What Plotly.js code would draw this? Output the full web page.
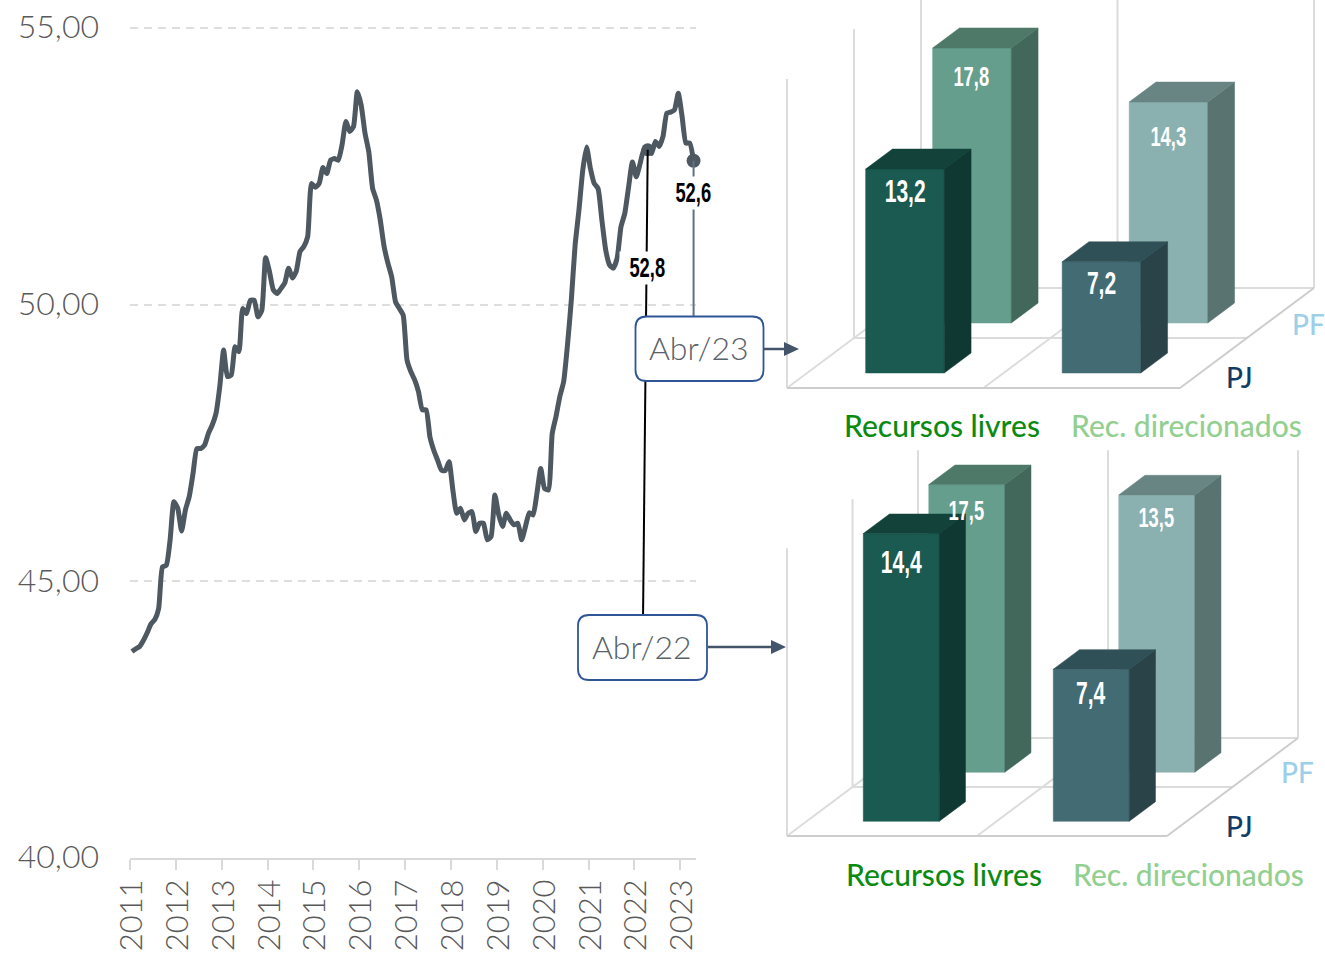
<!DOCTYPE html>
<html>
<head>
<meta charset="utf-8">
<script src="https://cdn.plot.ly/plotly-3.0.1.min.js"></script>
<style>html,body{margin:0;padding:0;background:#fff;overflow:hidden}#c{width:1325px;height:953px}</style>
</head>
<body>
<div id="c"></div>
<script>
// ---------- data ----------
const seriesStartYear = 2011;
const monthlyRate = [
43.73,43.78,43.82,43.93,44.07,44.23,44.31,44.51,45.26,45.29,45.75,46.44,
46.32,45.91,46.29,46.53,46.95,47.40,47.40,47.46,47.67,47.82,48.03,48.52,
49.18,48.70,48.73,49.24,49.15,49.93,49.84,50.08,50.08,49.78,49.90,50.85,
50.60,50.27,50.20,50.29,50.39,50.66,50.48,50.60,50.96,51.05,51.23,52.19,
52.12,52.19,52.48,52.37,52.61,52.64,52.61,52.89,53.31,53.13,53.22,53.85,
53.61,53.10,52.76,52.10,51.89,51.53,51.05,50.75,50.50,50.05,49.93,49.81,
49.00,48.79,48.64,48.43,48.10,48.10,47.61,47.37,47.19,47.01,47.00,47.16,
46.65,46.23,46.32,46.11,46.23,46.26,45.90,46.05,46.05,45.75,45.81,46.56,
46.20,45.99,46.23,46.11,46.02,46.05,45.75,45.99,46.24,46.20,46.59,47.04,
46.68,46.65,47.67,47.98,48.34,48.61,49.27,50.08,51.08,51.71,52.43,52.85,
52.46,52.19,52.10,51.53,50.99,50.72,50.66,50.84,51.41,51.65,52.13,52.58,
52.31,52.55,52.80,52.80,52.73,52.95,52.86,53.04,53.46,53.48,53.52,53.82,
53.40,52.92,52.92,52.60];
const yearTicks = [2011,2012,2013,2014,2015,2016,2017,2018,2019,2020,2021,2022,2023];
const rateTicks = [40,45,50,55];
const rateTickLabels = ["40,00","45,00","50,00","55,00"];
const highlightMonths = [135, 147];
const highlightValues = [52.8, 52.6];
const highlightLabels = ["52,8","52,6"];
const boxLabels = ["Abr/22","Abr/23"];

const categories = ["Recursos livres","Rec. direcionados"];
const rowLabels = ["PJ","PF"];
const pj23 = [13.2, 7.2];
const pf23 = [17.8, 14.3];
const pj22 = [14.4, 7.4];
const pf22 = [17.5, 13.5];

// ---------- style ----------
const W = 1325, H = 953;
const px = x => x / W, py = y => 1 - y / H;
const FONT = "Lato, 'Noto Sans', sans-serif";
const NARROW = "'Liberation Sans', sans-serif";
const LINE = "#4e5860";
const WALL = "#dcdcdc", FLOOR = "#cdcdcd";
const colours = {
  pj0:{front:"#1a5a50",side:"#103833",top:"#13423b"},
  pf0:{front:"#659e8c",side:"#41685b",top:"#4e7868"},
  pj1:{front:"#426b74",side:"#2a4349",top:"#305057"},
  pf1:{front:"#8ab0af",side:"#587370",top:"#688483"}
};

// ---------- main chart ----------
const monthToYear = i => seriesStartYear + (i + 0.5) / 12;
const months = monthlyRate.map((_, i) => monthToYear(i));
const highlightYears = highlightMonths.map(monthToYear);
const traces = [
  {type:"scatter",mode:"lines",x:months,y:monthlyRate,xaxis:"x",yaxis:"y",
   line:{color:LINE,width:5,shape:"spline",smoothing:0.5},hoverinfo:"skip"},
  {type:"scatter",mode:"markers",x:[highlightYears[0]],y:[highlightValues[0]],xaxis:"x",yaxis:"y",cliponaxis:false,
   marker:{color:LINE,size:13,symbol:"circle",opacity:1,line:{width:0}},hoverinfo:"skip"},
  {type:"scatter",mode:"markers",x:[highlightYears[1]],y:[highlightValues[1]],xaxis:"x",yaxis:"y",cliponaxis:false,
   marker:{color:LINE,size:14,symbol:"circle",opacity:1,line:{width:0}},hoverinfo:"skip"}
];

// ---------- 3D panels ----------
const annotations = [];
function panel(ax, cfg, pj, pf, pjOff, pfOff, pjSize, pfSize) {
  const xa = "x"+ax, ya = "y"+ax;
  const dx = cfg.rowDx, dy = cfg.rowDy, m = cfg.max;
  const line = (xs, ys, c) => traces.push({type:"scatter",mode:"lines",x:xs,y:ys,xaxis:xa,yaxis:ya,
      line:{color:c,width:2},hoverinfo:"skip"});
  // walls
  [[0,0],[0,1],[0,2],[1,2],[2,2]].forEach(([c,r]) => {
    line([c+r*dx,c+r*dx],[r*dy,r*dy+m],WALL);
  });
  // floor
  [2,1].forEach(r => line([r*dx,2+r*dx],[r*dy,r*dy],WALL));
  [0,1].forEach(c => line([c,c+2*dx],[0,2*dy],WALL));
  line([0,2],[0,0],FLOOR);
  line([2,2+2*dx],[0,2*dy],FLOOR);
  // bars
  function bar(c, r, v, col, off, size) {
    const base = (r+0.3)*dy, x0 = c+0.298+(r+0.3)*dx, w = 0.4;
    const ddx = 0.4*dx, ddy = 0.4*dy, top = base+Math.min(v,cfg.clip);
    const poly = (xs,ys,f) => traces.push({type:"scatter",mode:"lines",fill:"toself",fillcolor:f,
      x:xs,y:ys,xaxis:xa,yaxis:ya,line:{color:f,width:0.5},hoverinfo:"skip"});
    poly([x0,x0+w,x0+w,x0,x0],[base,base,top,top,base],col.front);
    poly([x0+w,x0+w+ddx,x0+w+ddx,x0+w,x0+w],[base,base+ddy,top+ddy,top,base],col.side);
    poly([x0,x0+w,x0+w+ddx,x0+ddx,x0],[top,top,top+ddy,top+ddy,top],col.top);
    annotations.push({xref:xa,yref:ya,x:x0+w/2,y:top,yshift:-off,
      text:String(v).replace(".",","),showarrow:false,xanchor:"center",yanchor:"middle",
      font:{family:NARROW,size:size,color:"#fff",weight:700}});
  }
  [1,0].forEach(r => [0,1].forEach(c => {
    const k = (r?"pf":"pj")+c;
    bar(c, r, (r?pf:pj)[c], colours[k], (r?pfOff:pjOff)[c], (r?pfSize:pjSize));
  }));
}
const cfg23 = {rowDx:67/196.5, rowDy:50/15.45, max:20, clip:20};
const cfg22 = {rowDx:65.5/190, rowDy:49/20.55, max:14, clip:14};
panel("2", cfg23, pj23, pf23, [22,22], [29,35], 31, 27);
panel("3", cfg22, pj22, pf22, [29,24], [26,23], 31, 27);

function label(text, x, y, size, color, weight) {
  annotations.push({xref:"paper",yref:"paper",x:px(x),y:py(y),text,showarrow:false,
    xanchor:"center",yanchor:"middle",font:{family:FONT,size,color,weight:weight||400}});
}
const CAT = ["#0b8a12","#93cf90"], ROW = ["#0f3d68","#9dcfe8"];
label(categories[0],942,425,30,CAT[0],500); label(categories[1],1186,425,30,CAT[1],500);
label(rowLabels[1],1308,324,28,ROW[1],500); label(rowLabels[0],1239,377,28,ROW[0],500);
label(categories[0],944,874,30,CAT[0],500); label(categories[1],1188,874,30,CAT[1],500);
label(rowLabels[1],1297,772,28,ROW[1],500); label(rowLabels[0],1239,826,28,ROW[0],500);

label(boxLabels[1],699,347,32,"#596269",300);
label(boxLabels[0],642,646,32,"#596269",300);

// highlight value labels
[[highlightYears[0],highlightValues[0],highlightLabels[0],-118],
 [highlightYears[1],highlightValues[1],highlightLabels[1],-32]].forEach(([x,y,t,s]) => {
  annotations.push({xref:"x",yref:"y",x,y,yshift:s,text:t,showarrow:false,
    xanchor:"center",yanchor:"middle",bgcolor:"#fff",borderpad:1,
    font:{family:NARROW,size:27,color:"#000",weight:700}});
});

// ---------- call-outs ----------
function rr(x0,y0,x1,y1,r){
  const X=px,Y=py;
  return `M${X(x0+r)},${Y(y0)}L${X(x1-r)},${Y(y0)}Q${X(x1)},${Y(y0)} ${X(x1)},${Y(y0+r)}`+
         `L${X(x1)},${Y(y1-r)}Q${X(x1)},${Y(y1)} ${X(x1-r)},${Y(y1)}`+
         `L${X(x0+r)},${Y(y1)}Q${X(x0)},${Y(y1)} ${X(x0)},${Y(y1-r)}`+
         `L${X(x0)},${Y(y0+r)}Q${X(x0)},${Y(y0)} ${X(x0+r)},${Y(y0)}Z`;
}
const tri = (xTip,y,w,h) => `M${px(xTip)},${py(y)}L${px(xTip-w)},${py(y-h)}L${px(xTip-w)},${py(y+h)}Z`;
const ARROW = "#44546a", BOX = "#2f5597";
const shapes = [
  {type:"line",xref:"x",yref:"y",x0:highlightYears[0],y0:highlightValues[0],x1:2022.19,y1:44.39,
   line:{color:"#000",width:2}},
  {type:"line",xref:"x",yref:"y",x0:highlightYears[1],y0:highlightValues[1],x1:highlightYears[1],y1:49.6,
   line:{color:"#5f7088",width:2}},
  {type:"path",xref:"paper",yref:"paper",path:rr(635.5,316.5,763.5,381,11),fillcolor:"#fff",line:{color:BOX,width:1.8}},
  {type:"path",xref:"paper",yref:"paper",path:rr(578,615,707,680,11),fillcolor:"#fff",line:{color:BOX,width:1.8}},
  {type:"line",xref:"paper",yref:"paper",x0:px(764),y0:py(349),x1:px(788),y1:py(349),line:{color:ARROW,width:2.5}},
  {type:"path",xref:"paper",yref:"paper",path:tri(799,349,15,7),fillcolor:ARROW,line:{color:ARROW,width:0}},
  {type:"line",xref:"paper",yref:"paper",x0:px(708),y0:py(647),x1:px(775),y1:py(647),line:{color:ARROW,width:2.5}},
  {type:"path",xref:"paper",yref:"paper",path:tri(786,647,15,7),fillcolor:ARROW,line:{color:ARROW,width:0}}
];

// ---------- layout ----------
const hidden = {visible:false,fixedrange:true,showgrid:false,zeroline:false};
const layout = {
  width:W,height:H,margin:{l:0,r:0,t:0,b:0},autosize:false,showlegend:false,
  paper_bgcolor:"#fff",plot_bgcolor:"rgba(0,0,0,0)",
  xaxis:{domain:[px(130),px(696)],range:[2011,2011+566/45.85],anchor:"y",tickmode:"array",tickvals:yearTicks,
    ticktext:yearTicks.map(String),tickangle:-90,ticks:"outside",ticklen:10,tickwidth:1.5,tickcolor:"#d9d9d9",
    showline:true,linecolor:"#d9d9d9",linewidth:2,showgrid:false,zeroline:false,
    tickfont:{family:FONT,size:31,color:"#595959",weight:300},ticklabelstandoff:-3,ticklabelshift:2},
  yaxis:{domain:[py(858),py(18)],range:[40,55+10/55.33],anchor:"x",tickmode:"array",tickvals:rateTicks,ticktext:rateTickLabels,
    showgrid:true,gridcolor:"#dedede",gridwidth:2,griddash:"8px,6px",zeroline:false,showline:false,ticks:"",
    tickfont:{family:FONT,size:32,color:"#595959",weight:300},ticklabelstandoff:30,ticklabelshift:-1},
  xaxis2:Object.assign({domain:[px(780),1],range:[(780-787)/196.5,(1325-787)/196.5],anchor:"y2"},hidden),
  yaxis2:Object.assign({domain:[py(400),1],range:[-12/15.45,388/15.45],anchor:"x2"},hidden),
  xaxis3:Object.assign({domain:[px(780),1],range:[(780-787)/190,(1325-787)/190],anchor:"y3"},hidden),
  yaxis3:Object.assign({domain:[py(850),py(445)],range:[-14/20.55,391/20.55],anchor:"x3"},hidden),
  shapes,annotations
};
Plotly.newPlot("c",traces,layout,{displayModeBar:false,responsive:false}).then(() => {
  // the value labels are condensed in the reference: narrow the real text around its centre
  document.querySelectorAll("#c .annotation text").forEach(t => {
    if (/^\d+,\d$/.test(t.textContent.trim())) {
      const b = t.getBBox(), cx = b.x + b.width / 2;
      t.setAttribute("transform", `translate(${cx},0) scale(0.68,1) translate(${-cx},0)`);
    }
  });
});
</script>
</body>
</html>
